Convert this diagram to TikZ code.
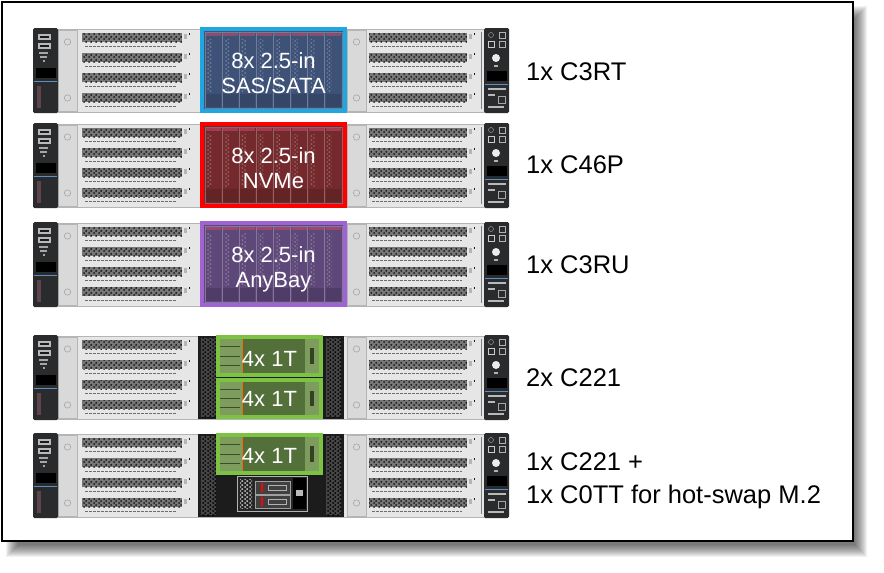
\documentclass[tikz,border=0pt]{standalone}
\usepackage{fontspec}
\setmainfont{Liberation Sans}
\usetikzlibrary{patterns.meta}

\definecolor{earblack}{HTML}{2A2B2D}
\definecolor{chassis}{HTML}{E6E6E6}
\definecolor{chassisedge}{HTML}{B5B5B5}
\definecolor{handlegray}{HTML}{D9D9D9}
\definecolor{ventbase}{HTML}{777777}
\definecolor{ventdark}{HTML}{1A1A1A}
\definecolor{baydark}{HTML}{1C1C1C}
\definecolor{earblue}{HTML}{5B8FC9}
\definecolor{tabpink}{HTML}{C04868}
\definecolor{sasblue}{HTML}{1FA8E0}
\definecolor{sasfill}{HTML}{3E5278}
\definecolor{nvmered}{HTML}{FF0000}
\definecolor{nvmefill}{HTML}{742A2C}
\definecolor{anypurple}{HTML}{A064D2}
\definecolor{anyfill}{HTML}{5E4879}
\definecolor{ssdgreen}{HTML}{7CC243}
\definecolor{ssdfill}{HTML}{53703A}
\definecolor{sledgreen}{HTML}{7E9C5E}

\tikzdeclarepattern{
  name=hexholes,
  type=uncolored,
  bounding box={(0pt,0pt) and (4.6pt,4.4pt)},
  tile size={(4.6pt,4.4pt)},
  code={
    \pgfpathcircle{\pgfpoint{1.15pt}{1.1pt}}{1.1pt}
    \pgfpathcircle{\pgfpoint{3.45pt}{3.3pt}}{1.1pt}
    \pgfusepath{fill}
  }
}

\tikzset{
  baytext/.style={text=white, align=center, font=\fontsize{22}{25}\selectfont,
    text depth=0pt, inner sep=0pt},
  label/.style={anchor=base west, font=\fontsize{25.5}{33}\selectfont, inner sep=0pt},
  ventdash/.style={chassisedge!60!black, line width=0.9pt, dash pattern=on 2.5pt off 1.5pt},
}

% one 2U chassis, top edge at y = #1
\newcommand{\serverunit}[1]{%
  \begin{scope}[shift={(0,#1)}]
    \fill[chassis] (56,1) rectangle (486,84);
    \draw[chassisedge] (56,1) rectangle (486,84);
    \foreach \sx/\vx/\vw in {58/82/100, 347/369/98} {
      \fill[handlegray] (\sx,2) rectangle ++(19,81);
      \draw[chassisedge] (\sx,2) rectangle ++(19,81);
      \draw[chassisedge!80!black] ({\sx+9.5},14) circle (3.2);
      \draw[chassisedge!80!black] ({\sx+9.5},70) circle (3.2);
      \foreach \b in {5,25,45,65} {
        \fill[ventbase] (\vx,\b) rectangle ++(\vw,9);
        \fill[pattern=hexholes, pattern color=ventdark] (\vx,\b) rectangle ++(\vw,9);
        \fill[chassisedge] ({\vx+\vw+2},{\b+1}) rectangle ++(3,5);
        \draw[ventdark] ({\vx+\vw+7},\b) -- ++(0,2);
      }
      \foreach \d in {18,38,58,78}
        \draw[ventdash] ({\vx+3},\d) -- ++({\vw-8},0);
    }
    \draw[chassisedge!70!black] (481,4) -- (481,81);
    % left ear
    \fill[earblack, rounded corners=1.5pt] (33,0) rectangle (58,85);
    \fill[gray!55] (38,6) rectangle (51,12);
    \fill[gray!55] (38,15) rectangle (51,21);
    \fill[earblack!60!black] (40,8) rectangle (49,10);
    \fill[earblack!60!black] (40,17) rectangle (49,19);
    \fill[gray!70] (39,24) rectangle (48,25.5);
    \fill[gray!70] (40,28) rectangle (47,29.5);
    \fill[gray!70] (43,32) rectangle (45,34);
    \fill[black] (36,40) rectangle (56,50);
    \draw[earblue, line width=0.9pt] (34,53) -- (57,53);
    \fill[gray!45!tabpink!45!earblack] (37,58) rectangle (41,80);
    % right ear
    \fill[earblack, rounded corners=1.5pt] (484,0) rectangle (509,85);
    \draw[gray!60] (491,7) circle (2.5);
    \draw[gray!60] (499,4) rectangle (505,10);
    \draw[gray!40] (488,13) rectangle (494,19);
    \draw[gray!60] (499,13) rectangle (505,19);
    \fill[gray!15] (496,30) circle (4);
    \fill[gray!60] (494,37) rectangle (498,39);
    \fill[black] (487,43) rectangle (507,53);
    \draw[earblue, line width=0.9pt] (485,56) -- (508,56);
    \fill[gray!55] (488,60) rectangle (506,61.5);
    \fill[gray!55] (488,66) rectangle (495,67.5);
    \draw[gray!70] (498,68) rectangle (505,75);
    \fill[gray!55] (488,78) rectangle (504,79.5);
  \end{scope}}

% empty black drive cage of the 4x and M.2 rows
\newcommand{\darkbay}[1]{%
  \begin{scope}[shift={(0,#1)}]
    \fill[baydark] (198,1) rectangle (344,84);
    \foreach \hx in {201,326}
      \fill[black!72] (\hx,3) rectangle ++(15,79);
    \fill[pattern=hexholes, pattern color=black] (201,3) rectangle (216,82);
    \fill[pattern=hexholes, pattern color=black] (326,3) rectangle (341,82);
  \end{scope}}

% eight 2.5-inch bays, #1 top, #2 frame, #3 fill, #4 node name, #5 text
\newcommand{\drivebay}[5]{%
  \begin{scope}[shift={(0,#1)}]
    \fill[#3] (202,1) rectangle (345,83);
    \foreach \k in {0,...,7} {
      \draw[#3!75!white, line width=0.5pt] ({205+\k*17.1},4) rectangle ++(17.1,76);
      \fill[tabpink!60!#3] ({206+\k*17.1},5) rectangle ++(15.1,3);
      \fill[pattern=hexholes, pattern color=#3!75!white] ({207+\k*17.1},11) rectangle ++(5,52);
      \fill[#3!85!black] ({206+\k*17.1},66) rectangle ++(15.1,13);
    }
    \draw[#2, line width=4.5pt] (202,1) rectangle (345,83);
    \node[baytext] (#4) at (273.5,45) {#5};
  \end{scope}}

% one 4x 1T carrier, #1 top, #2 height, #3 node name, #4 text centre
\newcommand{\ssdbox}[4]{%
  \begin{scope}[shift={(0,#1)}]
    \fill[ssdfill] (218,0) rectangle ++(103,#2);
    \fill[sledgreen] (219,1) rectangle ++(23,{#2-2});
    \foreach \l in {0.25,0.5,0.75}
      \draw[ssdfill!70!black, line width=0.8pt] (220,{#2*\l}) -- ++(20,0);
    \draw[orange!80!red, line width=1pt] (242.5,1) -- ++(0,{#2-2});
    \fill[sledgreen] (305,2) rectangle ++(14,{#2-4});
    \fill[ssdfill!60!black] (310,{#2*0.3}) rectangle ++(4,{#2*0.4});
    \draw[ssdgreen, line width=4pt] (218,0) rectangle ++(103,#2);
    \node[baytext] (#3) at (269.5,#4) {4x 1T};
  \end{scope}}

\begin{document}
\begin{tikzpicture}[x=1pt, y=-1pt]
  \useasboundingbox (0,0) rectangle (884,573);

  % frame with soft shadow
  \foreach \k in {0,...,12}
    \fill[black, opacity=0.055] ({6+\k},{6+\k}) rectangle ({867-\k},{557-\k});
  \draw[line width=2.5pt, fill=white] (2,2) rectangle (853,541);

  % chassis rows
  \foreach \ty in {28,123,222,335,433} {\serverunit{\ty}}
  \darkbay{335}
  \darkbay{433}

  \drivebay{28}{sasblue}{sasfill}{sasbay}{8x 2.5-in\\SAS/SATA}
  \drivebay{123}{nvmered}{nvmefill}{nvmebay}{8x 2.5-in\\NVMe}
  \drivebay{222}{anypurple}{anyfill}{anybay}{8x 2.5-in\\AnyBay}

  \ssdbox{337}{38}{ssdupper}{22}
  \ssdbox{380}{37}{ssdlower}{19}
  \ssdbox{435}{38}{ssdtop}{21}

  % M.2 cage under the 4x carrier
  \fill[black!85] (237,476) rectangle (307,511);
  \draw[gray!60] (237,476) rectangle (307,511);
  \fill[pattern=hexholes, pattern color=gray!45] (240,479) rectangle (252,508);
  \foreach \my in {481,495} {
    \fill[black!75] (255,\my) rectangle ++(35,13);
    \draw[gray!75] (255,\my) rectangle ++(35,13);
    \draw[red, line width=1.6pt] (262,{\my+2}) -- ++(0,9);
    \draw[gray!60] (268,{\my+4}) rectangle ++(18,5);
  }
  \fill[black] (293,478) rectangle (306,509);
  \fill[gray!55] (296,490) rectangle (303,496);

  % option labels
  \node[label] (cthreert) at (526,80) {1x C3RT};
  \node[label] (cfoursixp) at (526,173) {1x C46P};
  \node[label] (cthreeru) at (526,273) {1x C3RU};
  \node[label] (ctwotwoone) at (526,386) {2x C221};
  \node[label] (cmixa) at (526,470) {1x C221 +};
  \node[label] (cmixb) at (526,503) {1x C0TT for hot-swap M.2};
\end{tikzpicture}
\end{document}
